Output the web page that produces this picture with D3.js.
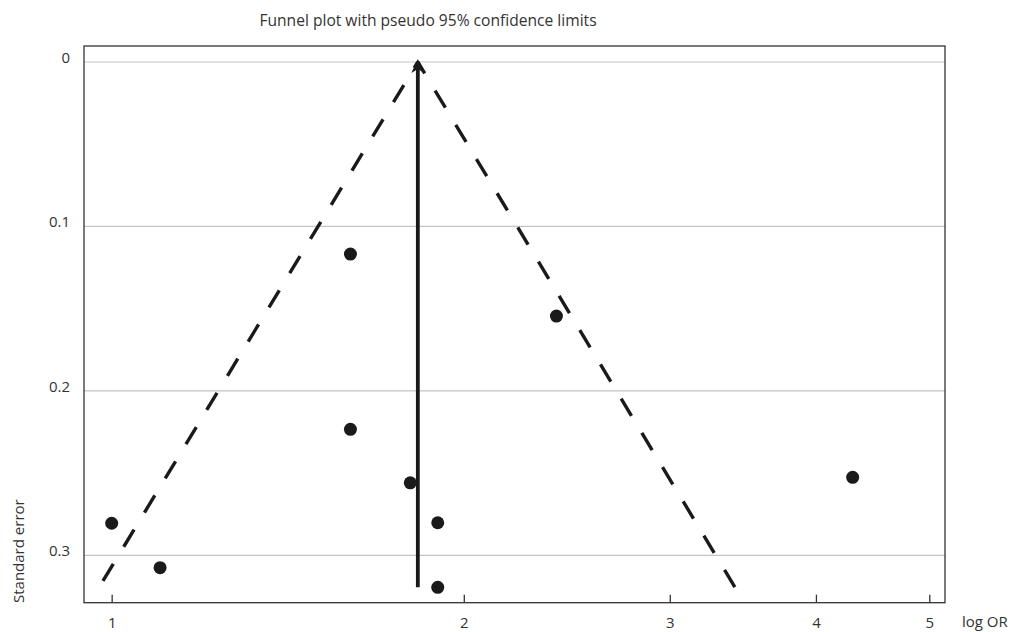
<!DOCTYPE html>
<html>
<head>
<meta charset="utf-8">
<script src="https://cdn.jsdelivr.net/npm/d3@7"></script>
<style>
  html, body { margin: 0; padding: 0; background: #fff; }
  svg text { font-family: "Open Sans", Lato, sans-serif; fill: #333; }
</style>
</head>
<body>
<svg id="chart" width="1013" height="632"></svg>
<script>
// ---- data ----
const title = "Funnel plot with pseudo 95% confidence limits";
const xLabel = "log OR";
const yLabel = "Standard error";
const xTicks = [1, 2, 3, 4, 5];
const yTicks = [0, 0.1, 0.2, 0.3];
const yTickLabels = ["0", "0.1", "0.2", "0.3"];
// studies: odds ratio and standard error
const studyOR = [1.00, 1.10, 1.60, 1.60, 1.80, 1.90, 1.90, 2.40, 4.30];
const studySE = [0.2805, 0.3075, 0.1168, 0.2234, 0.2559, 0.2802, 0.3195, 0.1545, 0.2526];
// pooled estimate and pseudo 95% limits
const pooledOR = 1.827;
const pooledSEmax = 0.3195;
const funnelLeft = [[0.983, 0.3156], [1.827, 0]];
const funnelRight = [[3.41, 0.3193], [1.827, 0]];

// ---- layout ----
const pLeft = 84, pRight = 945, pTop = 46, pBottom = 602.7;
const svg = d3.select("#chart");

const x = d3.scaleLog().domain([0.947, 5.157]).range([pLeft, pRight]);
const y = d3.scaleLinear().domain([0, 0.3]).range([62, 555.3]);

// gridlines
svg.append("g").selectAll("line").data(yTicks).join("line")
  .attr("x1", pLeft).attr("x2", pRight)
  .attr("y1", d => y(d)).attr("y2", d => y(d))
  .attr("stroke", "#c4c4c4").attr("stroke-width", 1.2);

// frame
svg.append("rect")
  .attr("x", pLeft).attr("y", pTop)
  .attr("width", pRight - pLeft).attr("height", pBottom - pTop)
  .attr("fill", "none").attr("stroke", "#333").attr("stroke-width", 1.3);

// x axis ticks (inward) and labels
const xAxis = d3.axisBottom(x).tickValues(xTicks).tickFormat(d3.format("d"))
  .tickSizeInner(-8).tickSizeOuter(0).tickPadding(14.5);
const gx = svg.append("g").attr("transform", `translate(0,${pBottom})`).call(xAxis);
gx.select(".domain").remove();
gx.selectAll(".tick line").attr("stroke", "#333").attr("stroke-width", 1.3);
gx.selectAll(".tick text").style("font-family", "'Open Sans', sans-serif")
  .style("font-size", "15px").attr("fill", "#333");

// y tick labels (baseline on gridline)
svg.append("g").selectAll("text").data(yTicks).join("text")
  .attr("x", 70).attr("y", d => y(d) + 1)
  .attr("text-anchor", "end")
  .style("font-size", "15px")
  .text((d, i) => yTickLabels[i]);

// title
svg.append("text").attr("x", 428).attr("y", 26)
  .attr("text-anchor", "middle").style("font-size", "15.6px").text(title);

// axis titles
svg.append("text").attr("x", 962).attr("y", 627)
  .style("font-size", "15px").text(xLabel);
svg.append("text")
  .attr("transform", `translate(24,603) rotate(-90)`)
  .attr("text-anchor", "start")
  .style("font-size", "15px").text(yLabel);

// funnel dashed lines
const line = d3.line().x(d => x(d[0])).y(d => y(d[1]));
[funnelLeft, funnelRight].forEach(seg => {
  svg.append("path").attr("d", line(seg))
    .attr("fill", "none").attr("stroke", "#1a1a1a")
    .attr("stroke-width", 3.4).attr("stroke-dasharray", "20,20");
});

// pooled estimate vertical arrow
const px = x(pooledOR);
svg.append("line")
  .attr("x1", px).attr("x2", px)
  .attr("y1", y(pooledSEmax)).attr("y2", y(0) + 6)
  .attr("stroke", "#1a1a1a").attr("stroke-width", 3.8);
const tipY = y(0) - 3;
svg.append("path")
  .attr("d", `M${px},${tipY} L${px + 6.5},${tipY + 14} L${px},${tipY + 10} L${px - 6.5},${tipY + 14} Z`)
  .attr("fill", "#1a1a1a");

// study points
svg.append("g").selectAll("circle").data(studyOR).join("circle")
  .attr("cx", d => x(d))
  .attr("cy", (d, i) => y(studySE[i]))
  .attr("r", 6.5)
  .attr("fill", "#1a1a1a");
</script>
</body>
</html>
